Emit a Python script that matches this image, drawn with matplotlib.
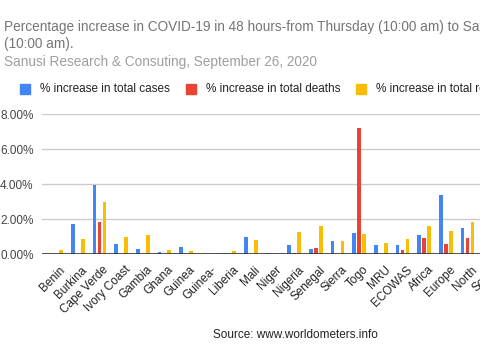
import numpy as np
import matplotlib.pyplot as plt

plt.rcParams['font.family'] = ['Liberation Sans', 'DejaVu Sans']

# Data (percent)
countries = ['Benin', 'Burkina', 'Cape Verde', 'Ivory Coast', 'Gambia', 'Ghana',
             'Guinea', 'Guinea-', 'Liberia', 'Mali', 'Niger', 'Nigeria', 'Senegal',
             'Sierra', 'Togo', 'MRU', 'ECOWAS', 'Africa', 'Europe', 'North', 'South']
cases = [0.00, 1.72, 3.95, 0.59, 0.32, 0.13, 0.40, 0.00, 0.07, 1.01, 0.07, 0.55, 0.27,
         0.73, 1.22, 0.55, 0.55, 1.11, 3.38, 1.51, 1.00]
deaths = [0.00, 0.00, 1.83, 0.00, 0.00, 0.00, 0.00, 0.00, 0.00, 0.00, 0.00, 0.07, 0.34,
          0.00, 7.25, 0.00, 0.23, 0.94, 0.61, 0.94, 0.70]
recoveries = [0.22, 0.86, 2.98, 0.99, 1.10, 0.23, 0.19, 0.00, 0.19, 0.82, 0.00, 1.28, 1.60,
              0.76, 1.16, 0.65, 0.88, 1.60, 1.32, 1.83, 1.20]

series = [('% increase in total cases', cases, '#4285F4'),
          ('% increase in total deaths', deaths, '#EA4335'),
          ('% increase in total recoveries', recoveries, '#FBBC04')]

fig = plt.figure(figsize=(4.8, 3.6), dpi=100)
ax = fig.add_axes([0.0875, 0.294, 0.961, 0.388])

x = np.arange(len(countries))
offsets = [-0.23, 0.0, 0.23]
for (name, vals, col), off in zip(series, offsets):
    ax.bar(x + off, vals, width=0.17, color=col, label=name, zorder=3)

ax.set_xlim(-0.65, len(countries) - 0.35)
ax.set_ylim(0, 8)
ax.set_yticks([0, 2, 4, 6, 8])
ax.set_yticklabels(['%.2f%%' % v for v in [0, 2, 4, 6, 8]], fontsize=8.5, color='#444444')
ax.grid(axis='y', color='#cccccc', linewidth=1, zorder=0)
ax.axhline(0, color='#333333', linewidth=1.2, zorder=4)
for s in ax.spines.values():
    s.set_visible(False)
ax.tick_params(axis='both', length=0)
ax.tick_params(axis='y', pad=6)

ax.set_xticks(x + 0.15)
ax.set_xticklabels(countries, rotation=45, ha='right', rotation_mode='anchor',
                   fontsize=8.5, color='#222222')
ax.tick_params(axis='x', pad=7)

# titles
fig.text(0.008, 1 - 31 / 360, 'Percentage increase in COVID-19 in 48 hours-from Thursday (10:00 am) to Saturday',
         fontsize=9.8, color='#757575')
fig.text(0.008, 1 - 48 / 360, '(10:00 am).', fontsize=9.8, color='#757575')
fig.text(0.008, 1 - 66 / 360, 'Sanusi Research & Consuting, September 26, 2020', fontsize=9.8, color='#9e9e9e')

# legend row
lx = [20, 186, 356]
for (name, vals, col), px in zip(series, lx):
    fig.patches.append(plt.Rectangle((px / 480, 1 - 94 / 360), 10 / 480, 10 / 360,
                                     transform=fig.transFigure, color=col, figure=fig))
    fig.text((px + 20) / 480, 1 - 89 / 360, name, fontsize=8.5, color='#222222', va='center')

fig.text(295 / 480, 1 - 335 / 360, 'Source: www.worldometers.info', fontsize=8.5,
         color='#222222', ha='center', va='center')

fig.savefig('out.png', dpi=100)
